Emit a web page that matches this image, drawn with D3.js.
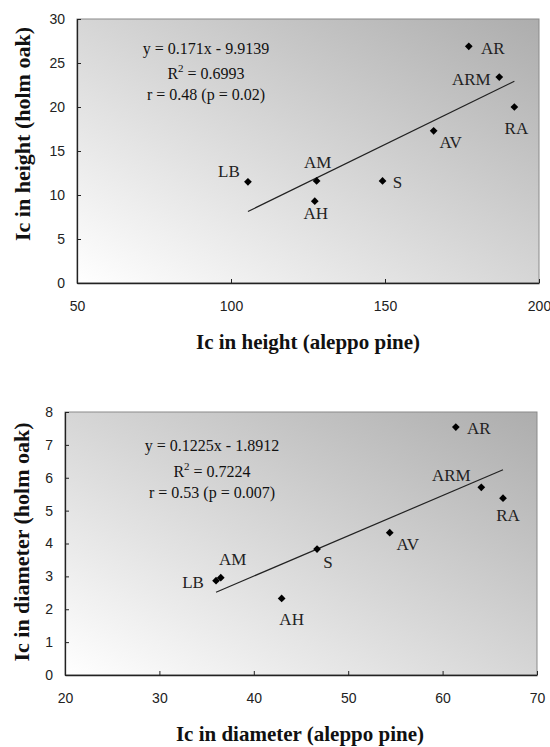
<!DOCTYPE html>
<html><head><meta charset="utf-8">
<script src="https://cdn.jsdelivr.net/npm/d3@7"></script>
<style>body{margin:0;background:#fff}</style>
</head><body>
<script>
// ---- Data ----
const sites = ["LB","AM","AH","S","AV","AR","ARM","RA"];
// Top chart: Ic in height
const heightPine = [105.5,127.8,127.2,149.2,165.8,177.2,187.1,192.0];
const heightOak  = [11.5,11.6,9.3,11.6,17.3,26.9,23.4,20.0];
const heightFit = {slope:0.171, intercept:-9.9139};
const heightText = ["y = 0.171x - 9.9139","R2 = 0.6993","r = 0.48 (p = 0.02)"];
const heightXTicks = [50,100,150,200];
const heightYTicks = [0,5,10,15,20,25,30];
// Bottom chart: Ic in diameter
const diamPine = [36.0,36.5,42.95,46.7,54.4,61.4,64.1,66.4];
const diamOak  = [2.87,2.96,2.33,3.83,4.33,7.54,5.71,5.38];
const diamFit = {slope:0.1225, intercept:-1.8912};
const diamText = ["y = 0.1225x - 1.8912","R2 = 0.7224","r = 0.53 (p = 0.007)"];
const diamXTicks = [20,30,40,50,60,70];
const diamYTicks = [0,1,2,3,4,5,6,7,8];

// label offsets (layout)
const heightLabelOff = [[-19,-11],[1,-19],[1,12],[15,1],[17,11],[24,2],[-28,2],[2,21]];
const diamLabelOff = [[-23,1],[12,-19],[10,21],[11,13],[18,11],[23,1],[-30,-12],[5,17]];

const serif = "Liberation Serif, Times New Roman, serif";
const svg = d3.select("body").append("svg").attr("width",550).attr("height",747);
const defs = svg.append("defs");
const grad = defs.append("linearGradient").attr("id","bg").attr("x1",0).attr("y1",1).attr("x2",1).attr("y2",0);
grad.append("stop").attr("offset","0%").attr("stop-color","#ffffff");
grad.append("stop").attr("offset","100%").attr("stop-color","#adadad");

function chart(o){
  const g = svg.append("g");
  const x = d3.scaleLinear().domain(o.xd).range([o.l,o.r]);
  const y = d3.scaleLinear().domain(o.yd).range([o.b,o.t]);
  g.append("rect").attr("x",o.l).attr("y",o.t).attr("width",o.r-o.l).attr("height",o.b-o.t)
    .attr("fill","url(#bg)").attr("stroke","#8a8a8a").attr("stroke-width",1);
  const xa = g.append("g").attr("transform",`translate(0,${o.b})`)
    .call(d3.axisBottom(x).tickValues(o.xt).tickSizeInner(-4).tickSizeOuter(0).tickPadding(18).tickFormat(d3.format("d")));
  const ya = g.append("g").attr("transform",`translate(${o.l},0)`)
    .call(d3.axisLeft(y).tickValues(o.yt).tickSizeInner(-4).tickSizeOuter(0).tickPadding(12).tickFormat(d3.format("d")));
  [xa,ya].forEach(a=>{
    a.selectAll("path").attr("stroke","#222").attr("stroke-width",1.3);
    a.selectAll("line").attr("stroke","#222");
    a.selectAll("text").attr("font-family","Liberation Sans, Arial, sans-serif").attr("font-size",14).attr("fill","#222");
  });
  // regression line
  const xs = d3.extent(o.xv);
  g.append("line")
    .attr("x1",x(xs[0])).attr("y1",y(o.fit.slope*xs[0]+o.fit.intercept))
    .attr("x2",x(xs[1])).attr("y2",y(o.fit.slope*xs[1]+o.fit.intercept))
    .attr("stroke","#222").attr("stroke-width",1.2);
  // points
  const sym = d3.symbol().type(d3.symbolSquare).size(30);
  o.xv.forEach((xv,i)=>{
    g.append("path").attr("d",sym())
      .attr("transform",`translate(${x(xv)},${y(o.yv[i])}) rotate(45)`).attr("fill","#000");
    g.append("text").attr("x",x(xv)+o.off[i][0]).attr("y",y(o.yv[i])+o.off[i][1]+6)
      .attr("text-anchor","middle").attr("font-family",serif)
      .attr("font-size",17).attr("fill","#222").text(sites[i]);
  });
  // equation text
  o.txt.forEach((t,i)=>{
    const te = g.append("text").attr("x",o.tx).attr("y",o.ty[i]+5).attr("text-anchor","middle")
      .attr("font-family",serif).attr("font-size",16).attr("fill","#111");
    if(t.startsWith("R2")){
      te.append("tspan").text("R");
      te.append("tspan").attr("dy",-7).attr("font-size",11).text("2");
      te.append("tspan").attr("dy",7).text(t.slice(2));
    } else te.text(t);
  });
  // axis titles
  g.append("text").attr("x",o.xtx).attr("y",o.xty).attr("text-anchor","middle")
    .attr("font-family",serif).attr("font-weight","bold").attr("font-size",21).attr("fill","#111").text(o.xtitle);
  g.append("text").attr("transform",`translate(${o.ytx},${o.yty}) rotate(-90)`).attr("text-anchor","middle")
    .attr("font-family",serif).attr("font-weight","bold").attr("font-size",22).attr("fill","#111").text(o.ytitle);
}

chart({l:77,r:539,t:19,b:283,xd:[50,200],yd:[0,30],xt:heightXTicks,yt:heightYTicks,
  xv:heightPine,yv:heightOak,fit:heightFit,off:heightLabelOff,txt:heightText,tx:206,ty:[49,74,95],
  xtitle:"Ic in height (aleppo pine)",xtx:308,xty:349,ytitle:"Ic in height (holm oak)",ytx:30,yty:134});
chart({l:65,r:537,t:412,b:675,xd:[20,70],yd:[0,8],xt:diamXTicks,yt:diamYTicks,
  xv:diamPine,yv:diamOak,fit:diamFit,off:diamLabelOff,txt:diamText,tx:212,ty:[446,472,493],
  xtitle:"Ic in diameter (aleppo pine)",xtx:300,xty:741,ytitle:"Ic in diameter (holm oak)",ytx:29,yty:542});
</script>
</body></html>
